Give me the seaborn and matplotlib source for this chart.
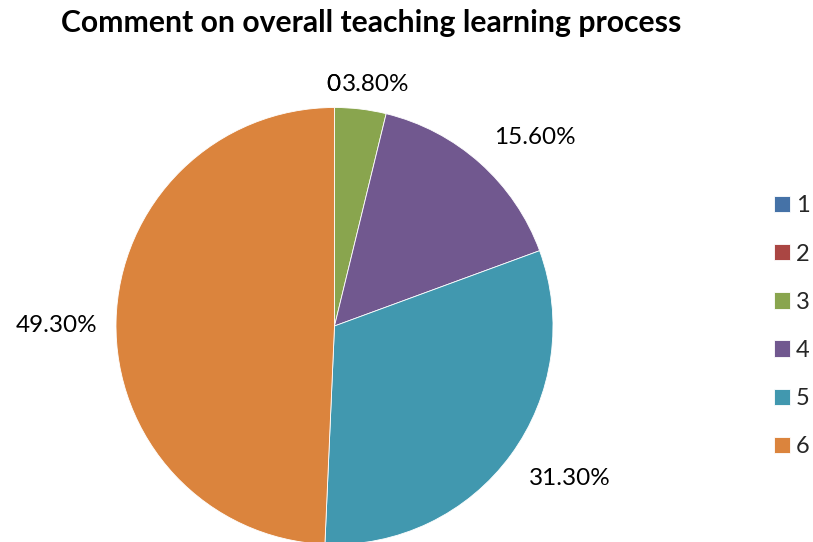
import seaborn as sns
import matplotlib.pyplot as plt
import numpy as np

# data
categories = ["1", "2", "3", "4", "5", "6"]
shares = [0, 0, 3.8, 15.6, 31.3, 49.3]
colors = ["#4572A7", "#AA4643", "#89A54E", "#71588F", "#4198AF", "#DB843D"]
title = "Comment on overall teaching learning process"

sns.set_theme(style="white")
plt.rcParams['font.family'] = ['Lato', 'DejaVu Sans']

fig = plt.figure(figsize=(8.13, 5.42), dpi=100)
W, H = 813, 542
cx, cy, r = 334.5, 326, 218.5
ax = fig.add_axes([(cx - r) / W, (H - cy - r) / H, 2 * r / W, 2 * r / H])

wedges, _ = ax.pie(shares, colors=sns.color_palette(colors), startangle=90,
                   counterclock=False,
                   wedgeprops=dict(edgecolor="white", linewidth=0.6))
ax.set_xlim(-1, 1)
ax.set_ylim(-1, 1)

# data labels outside each slice
for w, v in zip(wedges, shares):
    mid = np.deg2rad((w.theta1 + w.theta2) / 2)
    x, y = np.cos(mid), np.sin(mid)
    d = 1.1
    if v == 0:
        txt, ha, va = "0", "right", "center"
        x, y = 0.025 / d, 1.105 / d
    else:
        txt = f"{v:.2f}%"
        ha = "left" if x > 0.02 else ("right" if x < -0.02 else "center")
        va = "bottom" if y > 0.3 else ("top" if y < -0.3 else "center")
        if v < 5:
            ha, va = "left", "center"
            x, y = 0.035 / d, 1.105 / d
        elif y > 0.3:
            d = 1.095
        if abs(y) <= 0.3:
            d = 1.087
            y -= 0.02
    ax.text(x * d, y * d, txt, ha=ha, va=va, fontsize=17.5, color="black")

fig.text(0.457, 0.958, title, ha="center", va="center", fontsize=21.7,
         fontweight="bold", color="black")

fig.legend(wedges, categories, loc="center left", bbox_to_anchor=(0.940, 0.398),
           frameon=False, fontsize=17, handlelength=0.68, handleheight=0.68,
           handletextpad=0.25, labelspacing=1.15, borderpad=0,
           borderaxespad=0.4)

fig.savefig("out.png", dpi=100)
